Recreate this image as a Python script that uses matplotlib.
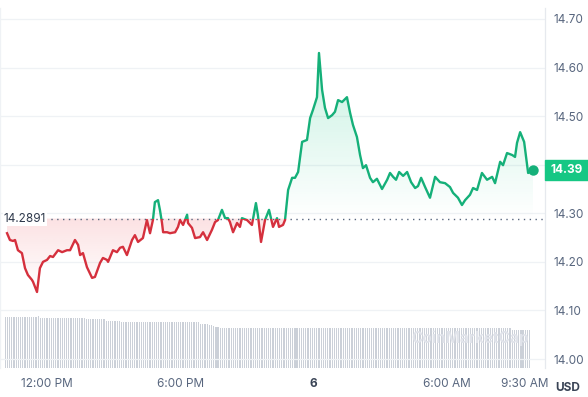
import numpy as np
import matplotlib
matplotlib.use("Agg")
import matplotlib.pyplot as plt
from matplotlib.patches import Rectangle
from matplotlib.path import Path

# ---------------- data ----------------
hours = [-1.80, -1.67, -1.53, -1.44, -1.31, -1.13, -0.99, -0.86, -0.68, -0.63,
         -0.45, -0.32, -0.18, 0.00, 0.14, 0.27, 0.50, 0.68, 0.90, 1.04,
         1.26, 1.40, 1.49, 1.62, 1.80, 2.03, 2.16, 2.39, 2.52, 2.70,
         2.75, 2.97, 3.15, 3.29, 3.42, 3.60, 3.83, 3.96, 4.10, 4.32,
         4.50, 4.64, 4.77, 4.86, 5.00, 5.09, 5.18, 5.23, 5.41, 5.54,
         5.77, 5.90, 5.99, 6.13, 6.31, 6.35, 6.53, 6.67, 6.89, 7.03,
         7.21, 7.43, 7.57, 7.70, 7.88, 8.02, 8.15, 8.24, 8.38, 8.56,
         8.69, 8.78, 9.01, 9.23, 9.41, 9.50, 9.64, 9.82, 10.00, 10.18,
         10.36, 10.45, 10.63, 10.72, 10.86, 11.04, 11.17, 11.31, 11.49, 11.71,
         11.85, 11.98, 12.16, 12.25, 12.39, 12.52, 12.66, 12.84, 12.97, 13.11,
         13.29, 13.51, 13.65, 13.78, 13.96, 14.10, 14.23, 14.37, 14.55, 14.68,
         14.86, 15.09, 15.32, 15.45, 15.59, 15.72, 15.86, 16.04, 16.22, 16.40,
         16.58, 16.71, 16.85, 17.03, 17.25, 17.48, 17.70, 17.93, 18.15, 18.29,
         18.51, 18.69, 18.83, 19.05, 19.19, 19.37, 19.59, 19.82, 20.05, 20.18,
         20.41, 20.54, 20.72, 20.95, 21.08, 21.17, 21.31, 21.49, 21.67, 21.89]
price = [14.259, 14.245, 14.243, 14.245, 14.224, 14.218, 14.187, 14.173, 14.163, 14.159,
         14.138, 14.187, 14.200, 14.204, 14.212, 14.210, 14.224, 14.220, 14.224, 14.224,
         14.245, 14.235, 14.214, 14.218, 14.189, 14.167, 14.169, 14.198, 14.208, 14.204,
         14.200, 14.224, 14.220, 14.229, 14.231, 14.214, 14.245, 14.255, 14.241, 14.249,
         14.286, 14.259, 14.286, 14.323, 14.327, 14.306, 14.280, 14.261, 14.261, 14.259,
         14.261, 14.272, 14.286, 14.276, 14.297, 14.280, 14.270, 14.249, 14.251, 14.261,
         14.245, 14.266, 14.282, 14.286, 14.307, 14.290, 14.290, 14.282, 14.261, 14.280,
         14.272, 14.290, 14.286, 14.276, 14.321, 14.296, 14.241, 14.286, 14.307, 14.272,
         14.290, 14.272, 14.276, 14.286, 14.348, 14.373, 14.373, 14.385, 14.447, 14.451,
         14.496, 14.513, 14.539, 14.630, 14.554, 14.517, 14.496, 14.502, 14.509, 14.533,
         14.529, 14.539, 14.507, 14.482, 14.457, 14.420, 14.393, 14.399, 14.373, 14.364,
         14.371, 14.350, 14.369, 14.383, 14.375, 14.369, 14.385, 14.377, 14.385, 14.364,
         14.352, 14.356, 14.373, 14.354, 14.332, 14.375, 14.364, 14.362, 14.354, 14.342,
         14.332, 14.317, 14.327, 14.338, 14.352, 14.348, 14.383, 14.369, 14.375, 14.362,
         14.406, 14.399, 14.424, 14.420, 14.416, 14.445, 14.467, 14.447, 14.383, 14.390]

open_price = 14.2891
last_label = "14.39"

volume = [
    5.2, 5.2, 5.2, 5.2, 5.2, 5.2, 5.2, 5.2, 5.2, 5.2, 5.2, 5.2, 5.2, 5.2, 5.2, 5.3,
    5.1, 5.1, 5.1, 5.1, 5.1, 5.1, 5.1, 5.1, 5.1, 5.1, 5.1, 5.1, 5.1, 5.1, 5.1, 5.1,
    5.1, 5.1, 5.1, 5.1, 5.1, 5.0, 5.0, 5.0, 5.0, 5.0, 5.0, 5.0, 5.0, 5.0, 4.8, 4.8,
    4.8, 4.8, 4.8, 4.8, 4.8, 4.7, 4.7, 4.7, 4.7, 4.7, 4.7, 4.7, 4.7, 4.7, 4.7, 4.7,
    4.7, 4.7, 4.7, 4.7, 4.7, 4.7, 4.7, 4.7, 4.7, 4.7, 4.7, 4.7, 4.7, 4.7, 4.7, 4.7,
    4.7, 4.7, 4.7, 4.7, 4.7, 4.7, 4.7, 4.7, 4.7, 4.5, 4.5, 4.5, 4.5, 4.4, 4.4, 4.3,
    4.2, 4.2, 4.1, 4.1, 4.1, 4.1, 4.1, 4.1, 4.1, 4.1, 4.1, 4.1, 4.1, 4.1, 4.1, 4.1,
    4.1, 4.1, 4.1, 4.1, 4.1, 4.1, 4.1, 4.1, 4.1, 4.1, 4.1, 4.1, 4.1, 4.1, 4.1, 4.1,
    4.1, 4.1, 4.1, 4.1, 4.1, 4.1, 4.1, 4.1, 4.1, 4.1, 4.1, 4.1, 4.1, 4.1, 4.1, 4.1,
    4.1, 4.1, 4.1, 4.1, 4.1, 4.1, 4.1, 4.1, 4.1, 4.1, 4.1, 4.1, 4.1, 4.1, 4.1, 4.1,
    4.1, 4.1, 4.1, 4.1, 4.1, 4.1, 4.1, 4.1, 4.1, 4.1, 4.1, 4.1, 4.1, 4.1, 4.1, 4.1,
    4.1, 4.1, 4.1, 4.1, 4.1, 4.1, 4.1, 4.1, 4.1, 4.1, 4.1, 4.1, 4.1, 4.1, 4.1, 4.1,
    4.1, 4.1, 4.1, 4.1, 4.1, 4.1, 4.1, 4.1, 4.1, 4.1, 4.1, 4.1, 4.1, 4.1, 4.1, 4.1,
    4.1, 4.1, 4.1, 4.1, 4.1, 4.1, 4.1, 4.1, 4.1, 4.1, 4.1, 4.1, 4.1, 4.1, 4.1, 4.1,
    4.1, 4.1, 4.1, 4.1, 4.1, 4.1, 4.1, 3.9, 3.9, 3.9, 3.9, 3.9, 3.9, 3.9, 3.9, 3.9]

tick_pos = [0, 6, 12, 18, 21.5]
tick_labels = ["12:00 PM", "6:00 PM", "6", "6:00 AM", "9:30 AM"]
y_ticks = [14.00, 14.10, 14.20, 14.30, 14.50, 14.60, 14.70]

# ---------------- style ----------------
GREEN = "#15b079"
RED = "#d5303d"
TAG = "#16c784"
TXT = "#58667e"
GRID = "#eff2f5"

plt.rcParams['font.family'] = ['Inter', 'DejaVu Sans']

W, H = 588, 397
fig = plt.figure(figsize=(W / 100, H / 100), dpi=100)
ax_l, ax_r, ax_t, ax_b = 0, 545, 8, 368
ax = fig.add_axes([ax_l / W, 1 - ax_b / H, (ax_r - ax_l) / W, (ax_b - ax_t) / H])

x = np.array(hours)
y = np.array(price)
xmin, xmax = -2.117, 22.43
ymin, ymax = 13.9815, 14.7226
ax.set_xlim(xmin, xmax)
ax.set_ylim(ymin, ymax)

# volume on twin axis
ax2 = ax.twinx()
ax2.set_position(ax.get_position())
vx = np.linspace(x[0] - 0.08, x[-1] - 0.15, len(volume))
ax2.bar(vx, volume, width=(vx[1] - vx[0]) * 0.55, color="#cbd0d8", linewidth=0)
ax2.set_ylim(0, max(volume) * 360 / 52.0)
ax2.set_yticks([])
for s in ax2.spines.values():
    s.set_visible(False)
ax.set_zorder(ax2.get_zorder() + 1)
ax.patch.set_visible(False)

# grid lines
for t in y_ticks:
    ax.axhline(t, color=GRID, lw=0.9, zorder=0)
ax.axhline(14.40, color=GRID, lw=0.9, zorder=0)

# gradient fills
fb_up = ax.fill_between(x, y, open_price, where=y >= open_price, interpolate=True,
                        color="none", lw=0)
fb_dn = ax.fill_between(x, y, open_price, where=y <= open_price, interpolate=True,
                        color="none", lw=0)

def gradient(coll, y0, y1, rgb, a_bottom, a_top):
    paths = coll.get_paths()
    if not paths:
        return
    n = 256
    grad = np.zeros((n, 1, 4))
    c = matplotlib.colors.to_rgb(rgb)
    grad[..., 0], grad[..., 1], grad[..., 2] = c
    grad[:, 0, 3] = np.linspace(a_bottom, a_top, n)
    im = ax.imshow(grad, extent=[xmin, xmax, y0, y1], origin="lower",
                   aspect="auto", zorder=1, interpolation="bilinear")
    cp = Path.make_compound_path(*paths)
    im.set_clip_path(cp, transform=ax.transData)

gradient(fb_up, open_price, y.max(), "#16c784", 0.0, 0.24)
gradient(fb_dn, y.min(), open_price, "#ea3943", 0.0, 0.15)

# baseline
ax.plot([-0.1, xmax], [open_price, open_price], color="#58667e", lw=1.0,
        ls=(0, (1, 3.2)), zorder=2)
ax.text(-1.95, open_price, f"{open_price}", color="#2f3a4c", fontsize=8.5,
        va="center", ha="left", zorder=4,
        bbox=dict(boxstyle="square,pad=0.1", fc="white", ec="none"))

# price line split by colour
lg, = ax.plot(x, y, color=GREEN, lw=1.7, zorder=3, solid_joinstyle="round")
lr, = ax.plot(x, y, color=RED, lw=1.7, zorder=3, solid_joinstyle="round")
lg.set_clip_path(Rectangle((xmin, open_price), xmax - xmin, 5, transform=ax.transData))
lr.set_clip_path(Rectangle((xmin, open_price - 5), xmax - xmin, 5, transform=ax.transData))
ax.plot([x[-1]], [y[-1]], "o", color=GREEN, ms=7.5, zorder=4, mew=0.0)

# spines
for s in ["top", "bottom"]:
    ax.spines[s].set_visible(False)
ax.spines["left"].set_color(GRID)
ax.spines["right"].set_color("#e6e9ee")
ax.spines["left"].set_linewidth(0.9)
ax.spines["right"].set_linewidth(0.9)

# axes ticks
ax.yaxis.tick_right()
ax.set_yticks(y_ticks)
ax.set_yticklabels([f"{v:.2f}" for v in y_ticks])
ax.tick_params(axis="y", length=0, pad=6, labelsize=8.5, labelcolor=TXT)
ax.set_xticks(tick_pos)
ax.set_xticklabels(tick_labels)
ax.tick_params(axis="x", length=0, pad=7, labelsize=8.5, labelcolor=TXT)
for lbl in ax.get_xticklabels():
    if lbl.get_text() == "6":
        lbl.set_fontweight("bold")
        lbl.set_color("#3a4456")

# current price tag
tag_x0 = 545 / W
tag_y = 1 - 170 / H
fig.patches.append(Rectangle((tag_x0, tag_y - 10 / H), 43 / W, 20 / H,
                             transform=fig.transFigure, color=TAG, zorder=5))
fig.text(tag_x0 + 21.5 / W, tag_y, last_label, color="white", fontsize=8.5,
         fontweight="bold", ha="center", va="center", zorder=6)

# currency label
fig.text(568 / W, 1 - 388 / H, "USD", color="#3a4456", fontsize=8.5,
         fontweight="bold", ha="center", va="center")

# watermark
fig.text(470 / W, 1 - 338 / H, "CoinMarketCap", color="#e0e3ea", fontsize=11,
         fontweight="bold", ha="center", va="center", zorder=0)

fig.savefig("out.png", dpi=100, facecolor="white")
